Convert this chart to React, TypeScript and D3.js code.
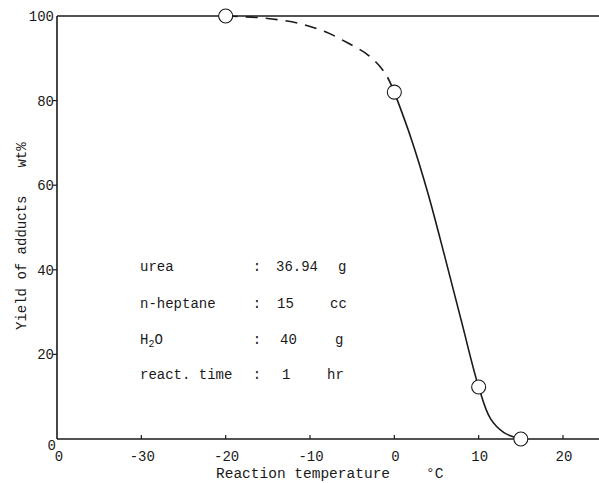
import React from "react";
import * as d3 from "d3";

const W = 599;
const H = 483;

// Measured points (reaction temperature °C, yield wt%)
const tempPoints = [-20, 0, 10, 15];
const yieldPoints = [100, 82, 12.3, 0];

// Dashed (estimated) part of the curve
const dashedT = [-20, -16, -13, -10.6, -8.1, -5.5, -3, -1.1, 0];
const dashedY = [100, 99.6, 98.9, 97.9, 96.2, 93.6, 90.6, 86.5, 82];

// Solid part of the curve
const solidT = [0, 2, 4, 6, 8, 10, 11.4, 13, 15];
const solidY = [82, 71, 58, 43, 27.5, 12.3, 4.8, 1.5, 0];

const xTickValues = [-40, -30, -20, -10, 0, 10, 20];
const xTickLabels = ["0", "-30", "-20", "-10", "0", "10", "20"];
const yTickValues = [0, 20, 40, 60, 80, 100];
const yTickLabels = ["0", "20", "40", "60", "80", "100"];

const condLabels = ["urea", "n-heptane", "H2O", "react. time"];
const condValues = ["36.94", "15", "40", "1"];
const condUnits = ["g", "cc", "g", "hr"];

const FONT = "'Liberation Mono', 'DejaVu Sans Mono', monospace";
const INK = "#1a1a1a";

export default function App() {
  const x = d3.scaleLinear().domain([-40, 20]).range([57, 563]);
  const y = d3.scaleLinear().domain([0, 100]).range([439, 16]);
  const xEnd = W;

  const line = d3
    .line<[number, number]>()
    .x((d) => x(d[0]))
    .y((d) => y(d[1]))
    .curve(d3.curveCatmullRom.alpha(0.5));

  const dashedData = dashedT.map((t, i) => [t, dashedY[i]] as [number, number]);
  const solidData = solidT.map((t, i) => [t, solidY[i]] as [number, number]);

  const rowY = [271, 308, 344, 379];
  const valueX = [276, 277, 280, 282];
  const unitX = [338, 330, 335, 327];

  return (
    <svg
      width={W}
      height={H}
      style={{ position: "absolute", left: 0, top: 0, background: "#fff" }}
      fontFamily={FONT}
    >
      <rect x={0} y={0} width={W} height={H} fill="#fff" />
      {/* frame: top line, left axis, bottom axis */}
      <line x1={x(-40)} x2={xEnd} y1={y(100)} y2={y(100)} stroke={INK} strokeWidth={1.6} />
      <line x1={x(-40)} x2={x(-40)} y1={y(100)} y2={y(0)} stroke={INK} strokeWidth={1.6} />
      <line x1={x(-40)} x2={xEnd} y1={y(0)} y2={y(0)} stroke={INK} strokeWidth={1.6} />

      {/* x ticks */}
      {xTickValues.map((v, i) => (
        <g key={"xt" + i}>
          {i > 0 && (
            <line x1={x(v)} x2={x(v)} y1={y(0)} y2={y(0) - 4} stroke={INK} strokeWidth={1.2} />
          )}
          <text
            x={i === 0 ? x(v) + 2 : x(v) + 1}
            y={461}
            fontSize={14}
            textAnchor="middle"
            fill={INK}
          >
            {xTickLabels[i]}
          </text>
        </g>
      ))}

      {/* y ticks */}
      {yTickValues.map((v, i) => (
        <g key={"yt" + i}>
          {v > 0 && v < 100 && (
            <line x1={x(-40) - 4} x2={x(-40)} y1={y(v)} y2={y(v)} stroke={INK} strokeWidth={1.2} />
          )}
          <text
            x={x(-40) - (v === 0 ? 1 : 3)}
            y={v === 0 ? 450 : y(v) + 5}
            fontSize={14}
            textAnchor="end"
            fill={INK}
          >
            {yTickLabels[i]}
          </text>
        </g>
      ))}

      {/* curves */}
      <path
        d={line(dashedData) || ""}
        fill="none"
        stroke={INK}
        strokeWidth={1.6}
        strokeDasharray="12 8"
      />
      <path d={line(solidData) || ""} fill="none" stroke={INK} strokeWidth={1.6} />

      {/* markers */}
      {tempPoints.map((t, i) => (
        <circle
          key={"m" + i}
          cx={x(t)}
          cy={y(yieldPoints[i])}
          r={7}
          fill="#fff"
          stroke={INK}
          strokeWidth={1.1}
        />
      ))}

      {/* conditions annotation */}
      {condLabels.map((lab, i) => (
        <g key={"c" + i} fontSize={14} fill={INK}>
          <text x={140} y={rowY[i]}>
            {lab === "H2O" ? (
              <>
                H
                <tspan fontSize={10} dy={3}>
                  2
                </tspan>
                <tspan dy={-3}>O</tspan>
              </>
            ) : (
              lab
            )}
          </text>
          <text x={257} y={rowY[i]} textAnchor="middle">
            :
          </text>
          <text x={valueX[i]} y={rowY[i]}>
            {condValues[i]}
          </text>
          <text x={unitX[i]} y={rowY[i]}>
            {condUnits[i]}
          </text>
        </g>
      ))}

      {/* axis titles */}
      <text x={216} y={478} fontSize={14.5} fill={INK}>
        Reaction temperature
      </text>
      <text x={426} y={478} fontSize={14.5} fill={INK}>
        °C
      </text>
      <text
        transform="translate(26,330) rotate(-90)"
        fontSize={14}
        fill={INK}
        textAnchor="start"
      >
        Yield of adducts
        <tspan dx={28}>wt%</tspan>
      </text>
    </svg>
  );
}
